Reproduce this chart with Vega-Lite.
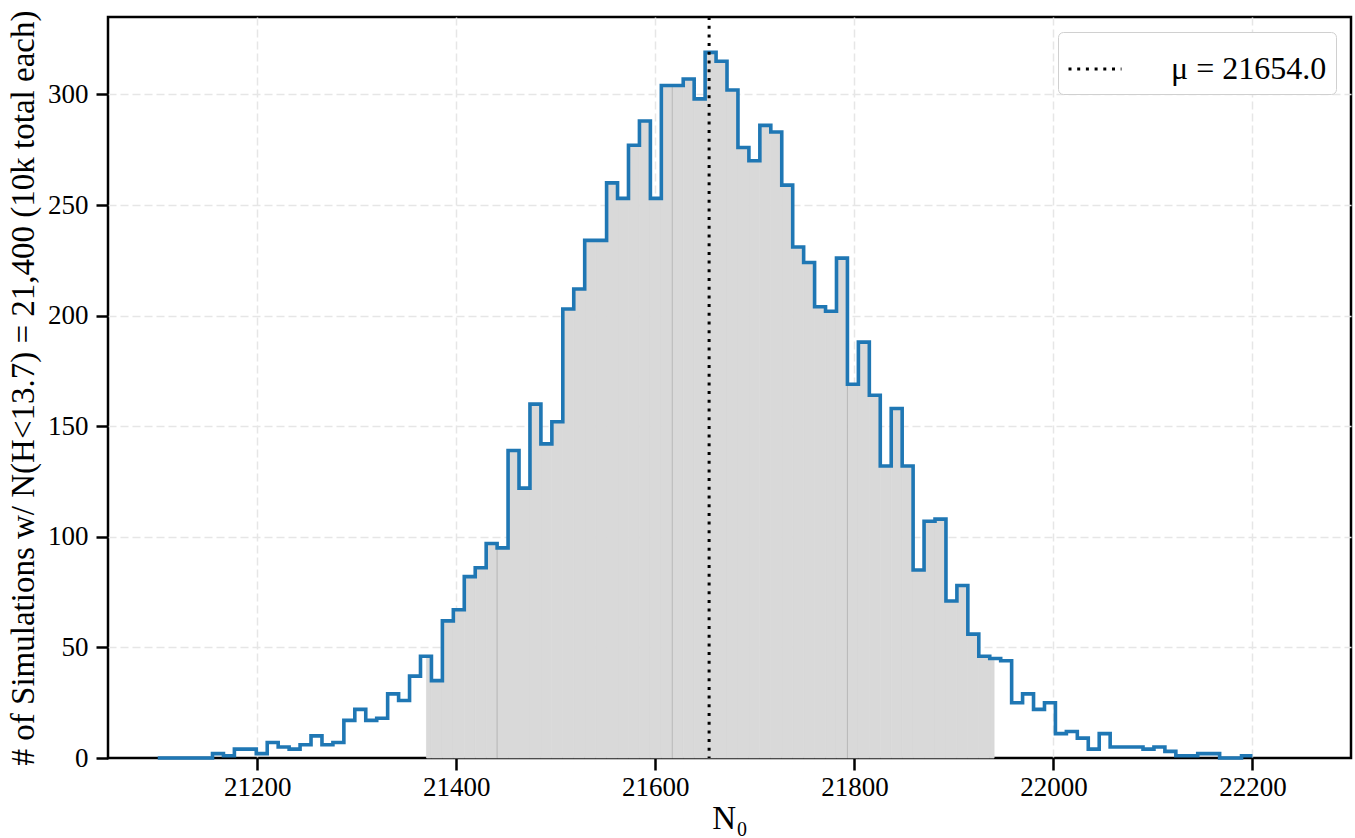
{
  "$schema": "https://vega.github.io/schema/vega-lite/v6.json",
  "width": 1243,
  "height": 741,
  "autosize": {"type": "none"},
  "padding": {"left": 108, "top": 17, "right": 4, "bottom": 80},
  "background": "white",
  "datasets": {
    "bins": [
      {"start": 21100, "end": 21111, "count": 0},
      {"start": 21111, "end": 21122, "count": 0},
      {"start": 21122, "end": 21133, "count": 0},
      {"start": 21133, "end": 21144, "count": 0},
      {"start": 21144, "end": 21155, "count": 0},
      {"start": 21155, "end": 21166, "count": 2},
      {"start": 21166, "end": 21177, "count": 1},
      {"start": 21177, "end": 21188, "count": 4},
      {"start": 21188, "end": 21199, "count": 4},
      {"start": 21199, "end": 21210, "count": 2},
      {"start": 21210, "end": 21221, "count": 7},
      {"start": 21221, "end": 21232, "count": 5},
      {"start": 21232, "end": 21243, "count": 4},
      {"start": 21243, "end": 21254, "count": 6},
      {"start": 21254, "end": 21265, "count": 10},
      {"start": 21265, "end": 21276, "count": 6},
      {"start": 21276, "end": 21287, "count": 7},
      {"start": 21287, "end": 21298, "count": 17},
      {"start": 21298, "end": 21309, "count": 22},
      {"start": 21309, "end": 21320, "count": 17},
      {"start": 21320, "end": 21331, "count": 18},
      {"start": 21331, "end": 21342, "count": 29},
      {"start": 21342, "end": 21353, "count": 26},
      {"start": 21353, "end": 21364, "count": 37},
      {"start": 21364, "end": 21375, "count": 46},
      {"start": 21375, "end": 21386, "count": 35},
      {"start": 21386, "end": 21397, "count": 62},
      {"start": 21397, "end": 21408, "count": 67},
      {"start": 21408, "end": 21419, "count": 82},
      {"start": 21419, "end": 21430, "count": 86},
      {"start": 21430, "end": 21441, "count": 97},
      {"start": 21441, "end": 21452, "count": 95},
      {"start": 21452, "end": 21463, "count": 139},
      {"start": 21463, "end": 21474, "count": 122},
      {"start": 21474, "end": 21485, "count": 160},
      {"start": 21485, "end": 21496, "count": 142},
      {"start": 21496, "end": 21507, "count": 152},
      {"start": 21507, "end": 21518, "count": 203},
      {"start": 21518, "end": 21529, "count": 212},
      {"start": 21529, "end": 21540, "count": 234},
      {"start": 21540, "end": 21551, "count": 234},
      {"start": 21551, "end": 21562, "count": 260},
      {"start": 21562, "end": 21573, "count": 253},
      {"start": 21573, "end": 21584, "count": 277},
      {"start": 21584, "end": 21595, "count": 288},
      {"start": 21595, "end": 21606, "count": 253},
      {"start": 21606, "end": 21617, "count": 304},
      {"start": 21617, "end": 21628, "count": 304},
      {"start": 21628, "end": 21639, "count": 307},
      {"start": 21639, "end": 21650, "count": 298},
      {"start": 21650, "end": 21661, "count": 319},
      {"start": 21661, "end": 21672, "count": 315},
      {"start": 21672, "end": 21683, "count": 302},
      {"start": 21683, "end": 21694, "count": 276},
      {"start": 21694, "end": 21705, "count": 270},
      {"start": 21705, "end": 21716, "count": 286},
      {"start": 21716, "end": 21727, "count": 283},
      {"start": 21727, "end": 21738, "count": 259},
      {"start": 21738, "end": 21749, "count": 231},
      {"start": 21749, "end": 21760, "count": 224},
      {"start": 21760, "end": 21771, "count": 204},
      {"start": 21771, "end": 21782, "count": 202},
      {"start": 21782, "end": 21793, "count": 226},
      {"start": 21793, "end": 21804, "count": 169},
      {"start": 21804, "end": 21815, "count": 188},
      {"start": 21815, "end": 21826, "count": 164},
      {"start": 21826, "end": 21837, "count": 132},
      {"start": 21837, "end": 21848, "count": 158},
      {"start": 21848, "end": 21859, "count": 132},
      {"start": 21859, "end": 21870, "count": 85},
      {"start": 21870, "end": 21881, "count": 107},
      {"start": 21881, "end": 21892, "count": 108},
      {"start": 21892, "end": 21903, "count": 71},
      {"start": 21903, "end": 21914, "count": 78},
      {"start": 21914, "end": 21925, "count": 56},
      {"start": 21925, "end": 21936, "count": 46},
      {"start": 21936, "end": 21947, "count": 45},
      {"start": 21947, "end": 21958, "count": 44},
      {"start": 21958, "end": 21969, "count": 25},
      {"start": 21969, "end": 21980, "count": 29},
      {"start": 21980, "end": 21991, "count": 22},
      {"start": 21991, "end": 22002, "count": 25},
      {"start": 22002, "end": 22013, "count": 11},
      {"start": 22013, "end": 22024, "count": 12},
      {"start": 22024, "end": 22035, "count": 9},
      {"start": 22035, "end": 22046, "count": 4},
      {"start": 22046, "end": 22057, "count": 11},
      {"start": 22057, "end": 22068, "count": 5},
      {"start": 22068, "end": 22079, "count": 5},
      {"start": 22079, "end": 22090, "count": 5},
      {"start": 22090, "end": 22101, "count": 4},
      {"start": 22101, "end": 22112, "count": 5},
      {"start": 22112, "end": 22123, "count": 3},
      {"start": 22123, "end": 22134, "count": 1},
      {"start": 22134, "end": 22145, "count": 1},
      {"start": 22145, "end": 22156, "count": 2},
      {"start": 22156, "end": 22167, "count": 2},
      {"start": 22167, "end": 22178, "count": 0},
      {"start": 22178, "end": 22189, "count": 0},
      {"start": 22189, "end": 22200, "count": 1}
    ],
    "mean": [{"mu": 21654, "label": "μ = 21654.0"}]
  },
  "layer": [
    {
      "data": {"name": "bins"},
      "transform": [
        {"filter": "datum.end > 21370 && datum.start < 21940.4"},
        {"calculate": "max(datum.start, 21370)", "as": "cx1"},
        {"calculate": "min(datum.end, 21940.4)", "as": "cx2"}
      ],
      "mark": {"type": "rect", "fill": "#d9d9d9", "stroke": "#d9d9d9", "strokeWidth": 0.7},
      "encoding": {
        "x": {"field": "cx1", "type": "quantitative", "scale": {"domain": [21050, 22299], "nice": false, "zero": false}, "title": "N₀",
              "axis": {"values": [21200, 21400, 21600, 21800, 22000, 22200], "format": "d"}},
        "x2": {"field": "cx2"},
        "y": {"field": "count", "type": "quantitative", "scale": {"domain": [0, 335], "nice": false}, "title": "# of Simulations w/ N(H<13.7) = 21,400 (10k total each)",
              "axis": {"values": [0, 50, 100, 150, 200, 250, 300], "format": "d",
                       "gridOpacity": {"condition": {"test": "datum.value == 0", "value": 0}, "value": 1}}},
        "y2": {"datum": 0}
      }
    },
    {
      "data": {"name": "bins"},
      "transform": [{"filter": "datum.start == 21441 || datum.start == 21617 || datum.start == 21793"}],
      "mark": {"type": "rule", "color": "#b8b8b8", "strokeWidth": 1},
      "encoding": {
        "x": {"field": "start", "type": "quantitative", "title": "N₀"},
        "y": {"field": "count", "type": "quantitative", "title": "# of Simulations w/ N(H<13.7) = 21,400 (10k total each)"},
        "y2": {"datum": 0}
      }
    },
    {
      "data": {"name": "bins"},
      "transform": [
        {"fold": ["start", "end"], "as": ["edge", "ex"]},
        {"calculate": "datum.start * 2 + (datum.edge == 'end' ? 1 : 0)", "as": "ord"}
      ],
      "mark": {"type": "line", "color": "#1f77b4", "strokeWidth": 3.6, "strokeJoin": "miter", "strokeCap": "butt"},
      "encoding": {
        "x": {"field": "ex", "type": "quantitative", "title": "N₀"},
        "y": {"field": "count", "type": "quantitative", "title": "# of Simulations w/ N(H<13.7) = 21,400 (10k total each)"},
        "order": {"field": "ord", "type": "quantitative"}
      }
    },
    {
      "data": {"name": "mean"},
      "mark": {"type": "rule", "color": "black", "strokeWidth": 3},
      "encoding": {
        "x": {"field": "mu", "type": "quantitative", "title": "N₀"},
        "strokeDash": {"field": "label", "type": "nominal", "scale": {"range": [[3, 5.7]]},
                       "legend": {"title": null, "orient": "top-right", "offset": 15}}
      }
    }
  ],
  "config": {
    "view": {"stroke": "black", "strokeWidth": 2.5},
    "axis": {
      "labelFont": "Liberation Serif", "titleFont": "Liberation Serif",
      "labelFontSize": 27, "titleFontSize": 33, "titleFontWeight": "normal",
      "labelColor": "black", "titleColor": "black",
      "tickColor": "black", "tickWidth": 2.5, "tickSize": 12,
      "domain": false, "grid": true, "gridColor": "#e6e6e6", "gridDash": [8, 4], "gridWidth": 1.5
    },
    "axisX": {"labelPadding": 4, "titlePadding": 2},
    "axisY": {"labelPadding": 8, "titlePadding": 7},
    "legend": {
      "fillColor": "white", "strokeColor": "#d0d0d0", "cornerRadius": 5, "padding": 9,
      "labelFont": "Liberation Serif", "labelFontSize": 32, "labelColor": "black", "labelLimit": 0,
      "symbolType": "stroke", "symbolSize": 2809, "symbolStrokeWidth": 3, "symbolStrokeColor": "black",
      "labelOffset": 48
    }
  }
}
